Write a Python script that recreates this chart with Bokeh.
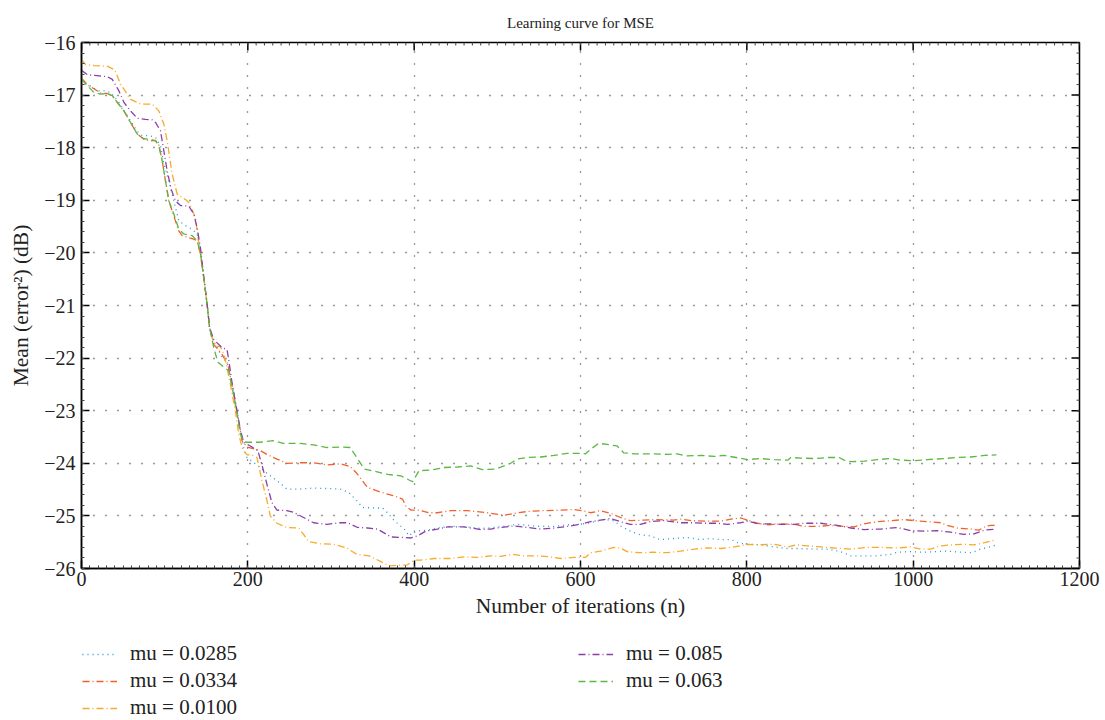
import math
from bokeh.plotting import figure
from bokeh.layouts import column
from bokeh.models import Legend, LegendItem, Range1d, FixedTicker
from bokeh.embed import file_html
from bokeh.resources import INLINE

# ---------------- data ----------------
labels = ["mu = 0.0285", "mu = 0.0334", "mu = 0.0100", "mu = 0.085", "mu = 0.063"]

x_0285 = [0, 7, 21, 29, 35, 45, 59, 67, 73, 81, 89, 95, 99, 105, 111, 117, 125, 133, 139, 143,
          148, 151, 154, 157, 161, 169, 175, 181, 187, 191, 195, 199, 211, 223, 235, 247, 263,
          279, 295, 311, 321, 331, 338, 352, 362, 368, 376, 388, 394, 400, 416, 432, 448, 464,
          480, 496, 512, 524, 536, 552, 568, 584, 600, 612, 628, 640, 648, 660, 672, 684, 696,
          712, 728, 744, 756, 768, 781, 789, 801, 817, 833, 849, 865, 881, 897, 913, 925, 941,
          957, 973, 981, 997, 1013, 1025, 1041, 1057, 1071, 1081, 1095, 1100]
y_0285 = [-16.72, -16.80, -16.92, -16.92, -16.95, -17.14, -17.49, -17.69, -17.77, -17.77, -17.80,
          -17.97, -18.30, -18.63, -19.01, -19.39, -19.48, -19.55, -19.64, -19.96, -20.59, -20.97,
          -21.42, -21.61, -21.74, -21.98, -22.08, -22.46, -23.00, -23.36, -23.71, -23.89, -24.03,
          -24.19, -24.33, -24.49, -24.49, -24.47, -24.48, -24.49, -24.55, -24.71, -24.84, -24.85,
          -24.85, -24.94, -25.09, -25.25, -25.38, -25.29, -25.27, -25.22, -25.20, -25.21, -25.24,
          -25.22, -25.19, -25.16, -25.18, -25.20, -25.20, -25.17, -25.16, -25.13, -25.07, -25.09,
          -25.19, -25.29, -25.36, -25.38, -25.45, -25.43, -25.41, -25.45, -25.43, -25.45, -25.45,
          -25.51, -25.54, -25.55, -25.59, -25.62, -25.62, -25.63, -25.63, -25.68, -25.76, -25.76,
          -25.76, -25.73, -25.69, -25.68, -25.69, -25.68, -25.67, -25.69, -25.70, -25.63, -25.58,
          -25.55]

x_0334 = [0, 7, 15, 23, 31, 37, 43, 51, 59, 67, 75, 83, 89, 93, 97, 101, 105, 111, 117, 121, 135,
          139, 143, 148, 151, 154, 157, 159, 169, 176, 181, 187, 193, 199, 215, 223, 235, 247, 263,
          279, 295, 311, 323, 331, 344, 360, 376, 386, 390, 396, 406, 418, 428, 444, 464, 488, 508,
          524, 540, 556, 576, 592, 602, 612, 624, 636, 648, 660, 676, 692, 712, 721, 733, 753, 769,
          781, 793, 801, 813, 825, 841, 857, 869, 885, 901, 917, 929, 941, 957, 973, 989, 1001,
          1017, 1033, 1041, 1053, 1069, 1079, 1087, 1093, 1100]
y_0334 = [-16.68, -16.80, -16.88, -16.96, -16.97, -17.01, -17.14, -17.30, -17.52, -17.74, -17.84,
          -17.87, -17.86, -17.95, -18.25, -18.63, -19.01, -19.30, -19.58, -19.67, -19.74, -19.77,
          -20.02, -20.59, -20.97, -21.42, -21.61, -21.74, -21.93, -22.12, -22.52, -23.03, -23.57,
          -23.69, -23.76, -23.83, -23.92, -24.00, -23.99, -23.99, -24.03, -24.01, -24.06, -24.19,
          -24.46, -24.55, -24.62, -24.68, -24.81, -24.89, -24.89, -24.94, -24.94, -24.90, -24.90,
          -24.94, -24.99, -24.94, -24.91, -24.90, -24.89, -24.88, -24.90, -24.94, -24.90, -24.95,
          -25.03, -25.09, -25.08, -25.07, -25.08, -25.06, -25.09, -25.10, -25.10, -25.06, -25.04,
          -25.08, -25.14, -25.17, -25.15, -25.16, -25.20, -25.20, -25.18, -25.20, -25.21, -25.15,
          -25.11, -25.09, -25.07, -25.09, -25.11, -25.13, -25.18, -25.23, -25.25, -25.27, -25.20,
          -25.18, -25.18]

x_0100 = [0, 5, 15, 31, 40, 47, 59, 71, 85, 93, 99, 103, 109, 115, 127, 130, 137, 139, 143, 148,
          151, 154, 157, 161, 167, 171, 175, 179, 185, 189, 193, 195, 199, 205, 211, 217, 223, 227,
          235, 247, 261, 267, 273, 287, 303, 319, 331, 346, 360, 370, 380, 392, 400, 408, 424, 444,
          460, 476, 492, 504, 518, 532, 548, 564, 576, 592, 606, 612, 624, 640, 648, 656, 672, 688,
          704, 720, 737, 753, 769, 785, 801, 813, 833, 849, 859, 873, 889, 905, 925, 945, 965, 981,
          997, 1009, 1021, 1033, 1045, 1061, 1073, 1086, 1095, 1100]
y_0100 = [-16.32, -16.42, -16.44, -16.45, -16.52, -16.79, -17.08, -17.17, -17.17, -17.30, -17.55,
          -17.87, -18.50, -18.88, -19.01, -19.07, -19.33, -19.58, -20.02, -20.59, -20.97, -21.42,
          -21.61, -21.77, -21.78, -21.92, -22.18, -22.50, -23.00, -23.44, -23.70, -23.76, -23.84,
          -23.84, -23.89, -24.33, -24.71, -25.00, -25.14, -25.22, -25.23, -25.35, -25.49, -25.53,
          -25.54, -25.61, -25.73, -25.76, -25.87, -25.95, -25.94, -25.93, -25.84, -25.84, -25.81,
          -25.81, -25.78, -25.79, -25.76, -25.77, -25.73, -25.76, -25.76, -25.78, -25.81, -25.79,
          -25.79, -25.70, -25.67, -25.60, -25.61, -25.68, -25.70, -25.69, -25.70, -25.67, -25.63,
          -25.61, -25.62, -25.59, -25.54, -25.55, -25.54, -25.59, -25.55, -25.57, -25.59, -25.61,
          -25.63, -25.60, -25.60, -25.61, -25.59, -25.63, -25.63, -25.57, -25.55, -25.54, -25.55,
          -25.51, -25.47, -25.45]

x_085 = [0, 7, 19, 31, 37, 45, 51, 59, 67, 77, 85, 89, 95, 99, 103, 108, 113, 119, 129, 135, 139,
         143, 148, 151, 154, 159, 169, 175, 177, 181, 186, 191, 195, 204, 212, 217, 223, 229, 235,
         247, 255, 267, 279, 295, 311, 320, 332, 344, 356, 372, 386, 396, 404, 414, 428, 440, 460,
         480, 492, 504, 520, 536, 552, 568, 584, 600, 612, 624, 636, 648, 660, 672, 684, 700, 721,
         733, 749, 765, 777, 793, 801, 813, 825, 841, 857, 869, 889, 909, 925, 941, 961, 981, 997,
         1013, 1029, 1045, 1061, 1073, 1086, 1100]
y_085 = [-16.53, -16.61, -16.63, -16.65, -16.70, -16.92, -17.14, -17.30, -17.44, -17.46, -17.47,
         -17.52, -17.68, -18.06, -18.44, -18.80, -19.01, -19.10, -19.11, -19.26, -19.52, -19.90,
         -20.59, -20.97, -21.42, -21.65, -21.80, -21.84, -22.03, -22.47, -22.92, -23.36, -23.60,
         -23.68, -23.76, -24.03, -24.40, -24.75, -24.89, -24.90, -24.93, -25.03, -25.13, -25.16,
         -25.13, -25.13, -25.22, -25.23, -25.25, -25.40, -25.41, -25.42, -25.38, -25.29, -25.25,
         -25.21, -25.21, -25.26, -25.25, -25.22, -25.19, -25.22, -25.25, -25.23, -25.20, -25.16,
         -25.11, -25.08, -25.05, -25.11, -25.16, -25.16, -25.11, -25.09, -25.13, -25.13, -25.14,
         -25.14, -25.16, -25.13, -25.10, -25.15, -25.15, -25.16, -25.16, -25.14, -25.14, -25.18,
         -25.23, -25.26, -25.25, -25.22, -25.28, -25.29, -25.28, -25.31, -25.35, -25.34, -25.27,
         -25.25]

x_063 = [0, 7, 15, 23, 31, 37, 43, 51, 59, 67, 75, 83, 89, 93, 97, 101, 105, 111, 117, 123, 133,
         139, 143, 148, 151, 154, 159, 164, 171, 177, 181, 187, 191, 195, 199, 215, 231, 243, 263,
         279, 295, 311, 323, 331, 340, 352, 368, 384, 398, 406, 420, 436, 452, 468, 482, 498, 508,
         516, 524, 536, 552, 568, 584, 600, 606, 614, 622, 636, 644, 652, 664, 688, 704, 716, 728,
         745, 761, 773, 787, 801, 817, 833, 849, 853, 865, 881, 897, 911, 917, 925, 941, 957, 973,
         985, 1001, 1017, 1037, 1053, 1069, 1086, 1100]
y_063 = [-16.70, -16.82, -16.95, -16.98, -16.97, -17.01, -17.14, -17.30, -17.52, -17.74, -17.83,
         -17.84, -17.87, -17.96, -18.25, -18.63, -19.01, -19.26, -19.55, -19.64, -19.67, -19.77,
         -20.00, -20.59, -20.97, -21.42, -21.80, -22.08, -22.17, -22.24, -22.55, -23.06, -23.44,
         -23.59, -23.60, -23.60, -23.57, -23.62, -23.62, -23.65, -23.70, -23.69, -23.70, -23.89,
         -24.11, -24.15, -24.21, -24.24, -24.35, -24.14, -24.13, -24.08, -24.07, -24.05, -24.12,
         -24.11, -24.05, -24.00, -23.92, -23.89, -23.88, -23.85, -23.81, -23.81, -23.82, -23.71,
         -23.62, -23.65, -23.67, -23.80, -23.82, -23.82, -23.83, -23.82, -23.86, -23.85, -23.87,
         -23.85, -23.89, -23.93, -23.91, -23.93, -23.94, -23.89, -23.90, -23.91, -23.89, -23.89,
         -23.94, -23.97, -23.96, -23.93, -23.91, -23.94, -23.95, -23.93, -23.91, -23.89, -23.88,
         -23.85, -23.84]

x_ticks = [0, 200, 400, 600, 800, 1000, 1200]
y_ticks = [-26, -25, -24, -23, -22, -21, -20, -19, -18, -17, -16]
x_minor = list(range(0, 1201, 10))
y_minor = [v / 5 for v in range(-130, -79)]
x_lim = (0, 1200)
y_lim = (-26, -16)

# ---------------- main figure ----------------
FONT = "Liberation Serif"

p = figure(width=1105, height=640, output_backend="svg", toolbar_location=None,
           x_range=Range1d(*x_lim), y_range=Range1d(*y_lim),
           min_border_left=81, min_border_right=26, min_border_top=42, min_border_bottom=72,
           title="Learning curve for MSE", background_fill_color="white",
           border_fill_color="white")

p.title.align = "center"
p.title.text_font = FONT
p.title.text_font_size = "15px"
p.title.text_font_style = "normal"
p.title.text_color = "#222222"
p.title.standoff = 23

p.outline_line_color = "black"
p.outline_line_width = 1.5
p.outline_line_alpha = 1.0

xt = FixedTicker(ticks=x_ticks, minor_ticks=x_minor)
yt = FixedTicker(ticks=y_ticks, minor_ticks=y_minor)

minus = {t: str(t).replace("-", "\u2212") for t in y_ticks}

for ax, t in ((p.xaxis[0], xt), (p.yaxis[0], yt)):
    ax.ticker = t
    ax.axis_line_color = "black"
    ax.axis_line_width = 1.5
    ax.major_tick_in = 8
    ax.major_tick_out = 0
    ax.major_tick_line_width = 1.5
    ax.minor_tick_in = 3
    ax.minor_tick_out = 0
    ax.minor_tick_line_color = "#444444"
    ax.major_label_text_font = FONT
    ax.major_label_text_font_size = "20px"
    ax.major_label_text_color = "#222222"
    ax.axis_label_text_font = FONT
    ax.axis_label_text_font_size = "21.5px"
    ax.axis_label_text_font_style = "normal"
    ax.axis_label_text_color = "#222222"

p.yaxis[0].major_label_overrides = minus
p.xaxis[0].axis_label = "Number of iterations (n)"
p.yaxis[0].axis_label = "Mean (error\u00b2) (dB)"
p.xaxis[0].major_label_standoff = 3
p.xaxis[0].axis_label_standoff = 5
p.yaxis[0].major_label_standoff = 6
p.yaxis[0].axis_label_standoff = 8

for g in (p.xgrid[0], p.ygrid[0]):
    g.grid_line_color = "#333333"
    g.grid_line_dash = "1 11"
    g.grid_line_width = 1.3
p.xgrid[0].ticker = xt
p.ygrid[0].ticker = yt

# inward ticks on the top and right edges (outer half of each dash is clipped by the frame)
p.scatter(x=x_ticks, y=[y_lim[1]] * len(x_ticks), marker="dash", angle=math.pi / 2,
          size=16, line_color="black", line_width=1.5)
p.scatter(x=x_minor, y=[y_lim[1]] * len(x_minor), marker="dash", angle=math.pi / 2,
          size=6, line_color="#444444", line_width=1)
p.scatter(x=[x_lim[1]] * len(y_ticks), y=y_ticks, marker="dash", size=16,
          line_color="black", line_width=1.5)
p.scatter(x=[x_lim[1]] * len(y_minor), y=y_minor, marker="dash", size=6,
          line_color="#444444", line_width=1)

# ---------------- series ----------------
styles = [("#2196dd", "1 4"), ("#f2612a", "7 3 1 3"), ("#f8aa2a", "7 3 1 3"),
          ("#8a3fa6", "7 3 1 3"), ("#5cb743", "7 4")]
xs_all = [x_0285, x_0334, x_0100, x_085, x_063]
ys_all = [y_0285, y_0334, y_0100, y_085, y_063]

for xs, ys, (col, dash) in zip(xs_all, ys_all, styles):
    p.line(xs, ys, line_color=col, line_width=1.3, line_dash=dash)

# ---------------- legend strip (separate figure under the plot) ----------------
# same series again, but outside this strip's ranges, so only their legend samples show
lg = figure(width=1105, height=80, output_backend="svg", toolbar_location=None,
            x_range=Range1d(5000, 5001), y_range=Range1d(5000, 5001),
            x_axis_type=None, y_axis_type=None,
            min_border_left=0, min_border_right=0, min_border_top=0, min_border_bottom=0,
            background_fill_color="white", border_fill_color="white")
lg.outline_line_alpha = 0
lg.xgrid.visible = False
lg.ygrid.visible = False

items = []
for xs, ys, (col, dash), lab in zip(xs_all, ys_all, styles, labels):
    r = lg.line(xs, ys, line_color=col, line_width=1.3, line_dash=dash)
    items.append(LegendItem(label=lab, renderers=[r]))

legend = Legend(items=items, location=(1, 0), orientation="vertical", nrows=3,
                label_text_font=FONT, label_text_font_size="21px", label_text_color="#222222",
                glyph_width=35, glyph_height=20, label_height=25, label_width=446,
                label_standoff=13, spacing=2, padding=0, margin=0,
                border_line_alpha=0, background_fill_alpha=0)
lg.add_layout(legend, "center")

layout = column(p, lg, spacing=0)
open("out.html", "w").write(file_html(layout, INLINE))
